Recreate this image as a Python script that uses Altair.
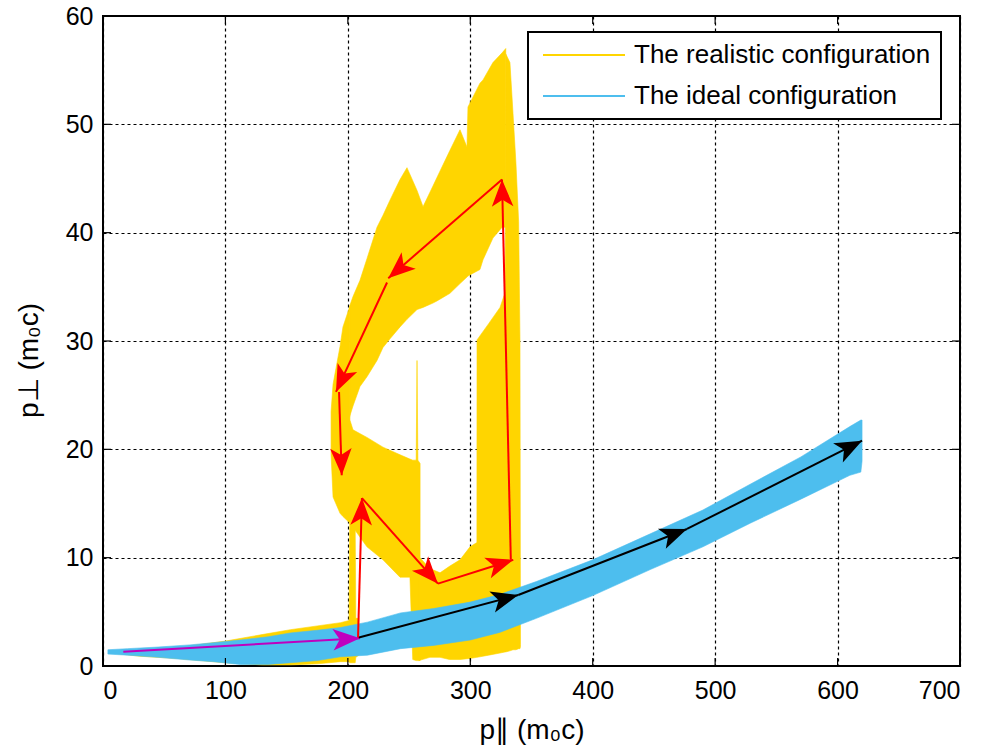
import math
import altair as alt
import pandas as pd

FONT = "Liberation Sans"

# ---------------- data ----------------
x_ticks = [0, 100, 200, 300, 400, 500, 600, 700]
y_ticks = [0, 10, 20, 30, 40, 50, 60]

series_names = ["The realistic configuration", "The ideal configuration"]
series_colors = ["#FFD500", "#4DBEEE"]

# ideal configuration band (lower / upper envelope)
ideal_x = [4, 20, 45, 71, 90, 112, 135, 153, 175, 194, 216, 243, 270, 300, 324,
           354, 400, 447, 490, 529, 570, 610, 619, 620]
ideal_lo = [1.1, 1.0, 0.8, 0.55, 0.4, 0.15, 0.15, 0.3, 0.5, 0.85, 1.0, 1.6, 1.9,
            2.4, 3.1, 4.4, 6.5, 8.9, 11.0, 13.2, 15.4, 17.6, 17.9, 18.9]
ideal_hi = [1.5, 1.6, 1.75, 1.95, 2.15, 2.4, 2.7, 3.05, 3.3, 3.55, 4.05, 4.9, 5.3,
            5.9, 6.6, 7.8, 9.8, 12.2, 14.4, 16.8, 19.3, 22.1, 22.7, 22.7]

# realistic configuration: envelope pieces
real_tail_x = [8, 30, 60, 100, 130, 153, 175, 194, 201.0, 201.5, 206.0, 206.5, 209]
real_tail_lo = [1.2, 0.9, 0.7, 0.3, 0.1, 0.1, 0.2, 0.4, 0.4, 0.3, 0.3, 0.8, 1.0]
real_tail_hi = [1.4, 1.5, 1.7, 2.3, 2.9, 3.35, 3.7, 4.0, 4.2, 13.2, 12.9, 4.4, 4.4]

real_left_x = [186.3, 187.9, 193.6, 196.0, 201.6, 201.7, 204.2, 215.6, 228.7, 242.6,
               250.7, 253.0, 255.8, 256.5, 257.2, 259.0]
real_left_lo = [19.5, 15.6, 14.1, 13.8, 13.2, 13.2, 12.8, 11.0, 9.8, 8.2,
                8.2, 0.6, 0.5, 0.5, 0.5, 0.5]
real_left_hi = [23.5, 26.0, 29.5, 31.3, 33.2, 22.7, 21.8, 21.1, 20.2, 19.5,
                19.1, 19.0, 19.0, 28.2, 19.0, 18.7]

real_upper_x = [201.4, 204.2, 209.9, 215.6, 223.8, 228.7, 234.4, 242.6, 248.3, 256.5,
                261.4, 269.5, 272.8, 283.4, 291.6, 297.3, 298.1, 307.9, 310.4, 318.5,
                326.0, 329.0]
real_upper_lo = [23.0, 24.0, 25.8, 26.7, 28.2, 29.4, 30.2, 31.3, 32.0, 32.9,
                 33.1, 33.5, 33.7, 34.4, 35.3, 35.9, 36.0, 36.6, 37.5, 39.5,
                 40.5, 40.5]
real_upper_hi = [33.2, 34.1, 35.6, 37.6, 40.5, 41.6, 43.0, 44.9, 46.0, 43.9,
                 42.4, 44.3, 45.1, 47.6, 49.5, 47.9, 51.6, 53.8, 54.1, 55.7,
                 56.6, 57.0]

real_right_x = [258.0, 267.0, 275.3, 283.0, 291.6, 299.8, 305.4, 305.5, 315.0, 324.3,
                328.5, 329.0, 332.4, 334.9, 337.3, 339.5, 340.6, 341.0]
real_right_lo = [0.5, 0.8, 0.8, 0.6, 0.6, 0.7, 0.8, 0.8, 1.0, 1.2,
                 1.3, 1.3, 1.4, 1.5, 1.5, 1.6, 1.6, 1.8]
real_right_hi = [10.1, 9.0, 8.6, 9.2, 9.8, 11.0, 11.4, 30.1, 31.6, 33.1,
                 34.5, 56.5, 55.7, 51.0, 46.4, 41.0, 30.0, 2.0]

# arrows
magenta_x = [16.6, 209.9]
magenta_y = [1.32, 2.56]
black_x = [208.3, 339.2, 477.0, 620.0]
black_y = [2.6, 6.55, 12.65, 20.8]
red_x0 = [208.3, 211.5, 273.6, 333.1, 325.9, 232.0, 192.8]
red_y0 = [2.6, 15.5, 7.6, 9.8, 44.9, 35.4, 25.3]
red_x1 = [211.5, 273.6, 335.1, 325.9, 233.0, 190.3, 195.0]
red_y1 = [15.5, 7.6, 9.8, 44.9, 35.8, 25.3, 17.6]

# ---------------- build tables ----------------
W, H = 857, 650
kx, ky = W / 700.0, H / 60.0

def piece(xs, lo, hi, name, series):
    return pd.DataFrame({"x": xs, "lo": lo, "hi": hi, "piece": name, "series": series})

real_df = pd.concat([
    piece(real_tail_x, real_tail_lo, real_tail_hi, "tail", series_names[0]),
    piece(real_left_x, real_left_lo, real_left_hi, "left", series_names[0]),
    piece(real_upper_x, real_upper_lo, real_upper_hi, "upper", series_names[0]),
    piece(real_right_x, real_right_lo, real_right_hi, "right", series_names[0]),
], ignore_index=True)
ideal_df = piece(ideal_x, ideal_lo, ideal_hi, "ideal", series_names[1])

rows = []
def add_arrow(x0, y0, x1, y1, col):
    ang = math.degrees(math.atan2((x1 - x0) * kx, (y1 - y0) * ky)) % 360
    rows.append(dict(x0=x0, y0=y0, x1=x1, y1=y1, col=col, ang=ang))

add_arrow(magenta_x[0], magenta_y[0], magenta_x[1], magenta_y[1], "#BF00BF")
for i in range(len(black_x) - 1):
    add_arrow(black_x[i], black_y[i], black_x[i + 1], black_y[i + 1], "#000000")
for a, b, c, d in zip(red_x0, red_y0, red_x1, red_y1):
    add_arrow(a, b, c, d, "#FF0000")
arrow_df = pd.DataFrame(rows)

xt_df = pd.DataFrame({"v": x_ticks})
yt_df = pd.DataFrame({"v": y_ticks})

# ---------------- chart ----------------
xs = alt.Scale(domain=[0, 700], nice=False, zero=False)
ys = alt.Scale(domain=[0, 60], nice=False, zero=False)
cscale = alt.Scale(domain=series_names, range=series_colors)

legend = alt.Legend(
    title=None, orient="none", legendX=425, legendY=16,
    symbolType="M-0.8,0H7.4", symbolSize=400, symbolStrokeWidth=2,
    symbolOffset=0,
    labelFont=FONT, labelFontSize=26, labelColor="black",
    labelOffset=70, labelLimit=600, padding=10, rowPadding=15,
    strokeColor="black", fillColor="white", cornerRadius=0,
)
fill_enc = alt.Fill("series:N", scale=cscale, legend=legend)
stroke_enc = alt.Stroke("series:N", scale=cscale, legend=legend)

XT = "p\u2225 (m\u2080c)"
YT = "p\u22a5 (m\u2080c)"
x_axis = alt.Axis(
    values=x_ticks, format="d", grid=True, gridDash=[3, 3], gridColor="black",
    gridWidth=1.2, gridOpacity=1, domain=False, ticks=False, tickSize=0,
    labelFont=FONT, labelFontSize=25, labelColor="black", labelPadding=12,
    title=XT, titleFont=FONT, titleFontSize=28,
    titleFontWeight="normal", titleColor="black", titleBaseline="alphabetic",
    titleY=72,
)
y_axis = alt.Axis(
    values=y_ticks, format="d", grid=True, gridDash=[3, 3], gridColor="black",
    gridWidth=1.2, gridOpacity=1, domain=False, ticks=False, tickSize=0,
    labelFont=FONT, labelFontSize=25, labelColor="black", labelPadding=10,
    title=YT, titleFont=FONT, titleFontSize=28,
    titleFontWeight="normal", titleColor="black", titleAngle=270,
    titleBaseline="alphabetic", titleAlign="center", titleX=-66, titleY=344,
)

def X(f):
    return alt.X(f, scale=xs, axis=x_axis, title=XT)

def Y(f):
    return alt.Y(f, scale=ys, axis=y_axis, title=YT)

real_layer = alt.Chart(real_df).mark_area(opacity=1, strokeWidth=0.6).encode(
    x=X("x:Q"), y=Y("lo:Q"), y2="hi:Q",
    detail="piece:N", fill=fill_enc, stroke=stroke_enc,
)
ideal_layer = alt.Chart(ideal_df).mark_area(opacity=1, strokeWidth=0.6).encode(
    x=X("x:Q"), y=Y("lo:Q"), y2="hi:Q",
    detail="piece:N", fill=fill_enc, stroke=stroke_enc,
)

lines = alt.Chart(arrow_df).mark_rule(strokeWidth=2).encode(
    x=X("x0:Q"), y=Y("y0:Q"), x2="x1:Q", y2="y1:Q",
    color=alt.Color("col:N", scale=None),
)
heads = alt.Chart(arrow_df).mark_point(
    shape="M0,0L0.8,2L0,1.5L-0.8,2Z", filled=True, size=729, opacity=1, strokeWidth=0
).encode(
    x=X("x1:Q"), y=Y("y1:Q"),
    angle=alt.Angle("ang:Q", scale=None),
    color=alt.Color("col:N", scale=None),
)

tick_len = 8
bt = alt.Chart(xt_df).mark_rule(color="black", strokeWidth=1.2).encode(
    x=X("v:Q"), y=alt.value(H), y2=alt.value(H - tick_len))
tt = alt.Chart(xt_df).mark_rule(color="black", strokeWidth=1.2).encode(
    x=X("v:Q"), y=alt.value(0), y2=alt.value(tick_len))
lt = alt.Chart(yt_df).mark_rule(color="black", strokeWidth=1.2).encode(
    y=Y("v:Q"), x=alt.value(0), x2=alt.value(tick_len))
rt = alt.Chart(yt_df).mark_rule(color="black", strokeWidth=1.2).encode(
    y=Y("v:Q"), x=alt.value(W), x2=alt.value(W - tick_len))

chart = alt.layer(real_layer, ideal_layer, lines, heads, bt, tt, lt, rt).properties(
    width=W, height=H,
    autosize=alt.AutoSizeParams(type="none"),
    padding={"left": 103, "top": 16, "right": 27, "bottom": 85},
    background="white",
).configure_view(stroke="black", strokeWidth=2).configure_legend(strokeWidth=2)

chart.save("out.html", embed_options={"renderer": "svg", "actions": False})
